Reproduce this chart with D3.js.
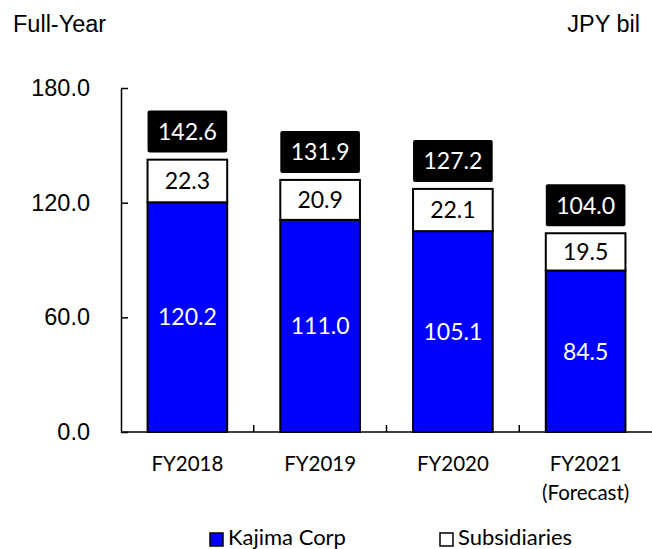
<!DOCTYPE html>
<html>
<head>
<meta charset="utf-8">
<script src="https://cdn.jsdelivr.net/npm/d3@7"></script>
<style>
  body { margin: 0; background: #fff; }
</style>
</head>
<body>
<div id="chart"></div>
<script>
// data
const years = ["FY2018", "FY2019", "FY2020", "FY2021"];
const yearLabels = [["FY2018"], ["FY2019"], ["FY2020"], ["FY2021", "(Forecast)"]];
const kajima = [120.2, 111.0, 105.1, 84.5];
const subsidiaries = [22.3, 20.9, 22.1, 19.5];
const totals = [142.6, 131.9, 127.2, 104.0];
const yTicks = [0, 60, 120, 180];
const seriesNames = ["Kajima Corp", "Subsidiaries"];

const W = 652, H = 549;
const margin = {top: 88, right: 0, bottom: 117, left: 121};
const width = W - margin.left - margin.right,
      height = H - margin.top - margin.bottom;

const root = d3.select("#chart")
  .append("svg")
    .attr("width", W)
    .attr("height", H);
const svg = root.append("g")
    .attr("transform", `translate(${margin.left},${margin.top})`);

const rows = years.map((y, i) => ({year: y, kajima: kajima[i], subs: subsidiaries[i], total: totals[i]}));

// x scale
const x = d3.scaleBand()
  .domain(years)
  .range([0, width])
  .paddingInner(0.4)
  .paddingOuter(0.2);

// y scale
const y = d3.scaleLinear()
  .domain([0, 180])
  .range([height, 0]);

// stacked bars
const stacked = d3.stack().keys(["kajima", "subs"])(rows);
const color = d3.scaleOrdinal().domain(["kajima", "subs"]).range(["#0000ff", "#ffffff"]);

svg.append("g")
  .selectAll("g")
  .data(stacked)
  .join("g")
    .attr("fill", d => color(d.key))
  .selectAll("rect")
  .data(d => d)
  .join("rect")
    .attr("x", d => x(d.data.year))
    .attr("y", d => y(d[1]))
    .attr("width", x.bandwidth())
    .attr("height", d => y(d[0]) - y(d[1]))
    .attr("stroke", "#000")
    .attr("stroke-width", 2);

// segment labels
const fmt = d3.format(".1f");
stacked.forEach(s => {
  svg.append("g")
    .selectAll("text")
    .data(s)
    .join("text")
      .attr("x", d => x(d.data.year) + x.bandwidth() / 2)
      .attr("y", d => (y(d[0]) + y(d[1])) / 2)
      .attr("dy", "0.36em")
      .attr("text-anchor", "middle")
      .style("font-family", "Lato, 'Open Sans', sans-serif")
      .style("font-size", "23px")
      .attr("fill", s.key === "kajima" ? "#fff" : "#000")
      .text(d => fmt(d[1] - d[0]));
});

// total boxes
const tot = svg.append("g")
  .selectAll("g")
  .data(rows)
  .join("g")
    .attr("transform", d => `translate(${x(d.year)},${y(d.total) - 49})`);
tot.append("rect")
  .attr("width", x.bandwidth())
  .attr("height", 42)
  .attr("rx", 2)
  .attr("fill", "#000");
tot.append("text")
  .attr("x", x.bandwidth() / 2)
  .attr("y", 21)
  .attr("dy", "0.36em")
  .attr("text-anchor", "middle")
  .attr("fill", "#fff")
  .style("font-family", "Lato, 'Open Sans', sans-serif")
  .style("font-size", "23px")
  .text(d => fmt(d.total));

// y axis
const yAxis = svg.append("g")
  .call(d3.axisLeft(y).tickValues(yTicks).tickFormat(d3.format(".1f")).tickSize(-7).tickSizeOuter(0).tickPadding(31));
yAxis.select(".domain").attr("stroke-width", 1.5);
yAxis.selectAll(".tick line").attr("stroke-width", 1.5);
yAxis.selectAll("text")
  .style("font-family", "'Liberation Sans', Arial, sans-serif")
  .style("font-size", "23.5px")
  .attr("fill", "#000");

// x axis line with ticks between categories
svg.append("line")
  .attr("x1", 0).attr("x2", width)
  .attr("y1", height).attr("y2", height)
  .attr("stroke", "#000").attr("stroke-width", 1.5);
const step = x.step();
svg.append("g")
  .selectAll("line")
  .data(years.slice(1))
  .join("line")
    .attr("x1", d => x(d) - (step - x.bandwidth()) / 2)
    .attr("x2", d => x(d) - (step - x.bandwidth()) / 2)
    .attr("y1", height).attr("y2", height - 7)
    .attr("stroke", "#000").attr("stroke-width", 1.5);

// category labels
svg.append("g")
  .selectAll("text")
  .data(years)
  .join("text")
    .attr("x", d => x(d) + x.bandwidth() / 2)
    .attr("y", height + 39)
    .attr("text-anchor", "middle")
    .style("font-family", "Lato, 'Open Sans', sans-serif")
    .style("font-size", "20.5px")
    .attr("fill", "#000")
  .selectAll("tspan")
  .data((d, i) => yearLabels[i])
  .join("tspan")
    .attr("x", function() { return d3.select(this.parentNode).attr("x"); })
    .attr("dy", (d, i) => i === 0 ? 0 : 29)
    .text(d => d);

// headers
root.append("text")
  .attr("x", 13).attr("y", 32)
  .style("font-family", "'Liberation Sans', Arial, sans-serif")
  .style("font-size", "23.5px")
  .text("Full-Year");
root.append("text")
  .attr("x", 640).attr("y", 32)
  .attr("text-anchor", "end")
  .style("font-family", "'Liberation Sans', Arial, sans-serif")
  .style("font-size", "23.5px")
  .text("JPY bil");

// legend
const legendX = [210, 440];
const legend = root.append("g")
  .selectAll("g")
  .data(seriesNames)
  .join("g")
    .attr("transform", (d, i) => `translate(${legendX[i]},533)`);
legend.append("rect")
  .attr("width", 13).attr("height", 13)
  .attr("fill", (d, i) => i === 0 ? "#0000ff" : "#fff")
  .attr("stroke", "#000").attr("stroke-width", 1.5);
legend.append("text")
  .attr("x", 18).attr("y", 12)
  .style("font-family", "Lato, 'Open Sans', sans-serif")
  .style("font-size", "22px")
  .text(d => d);
</script>
</body>
</html>
